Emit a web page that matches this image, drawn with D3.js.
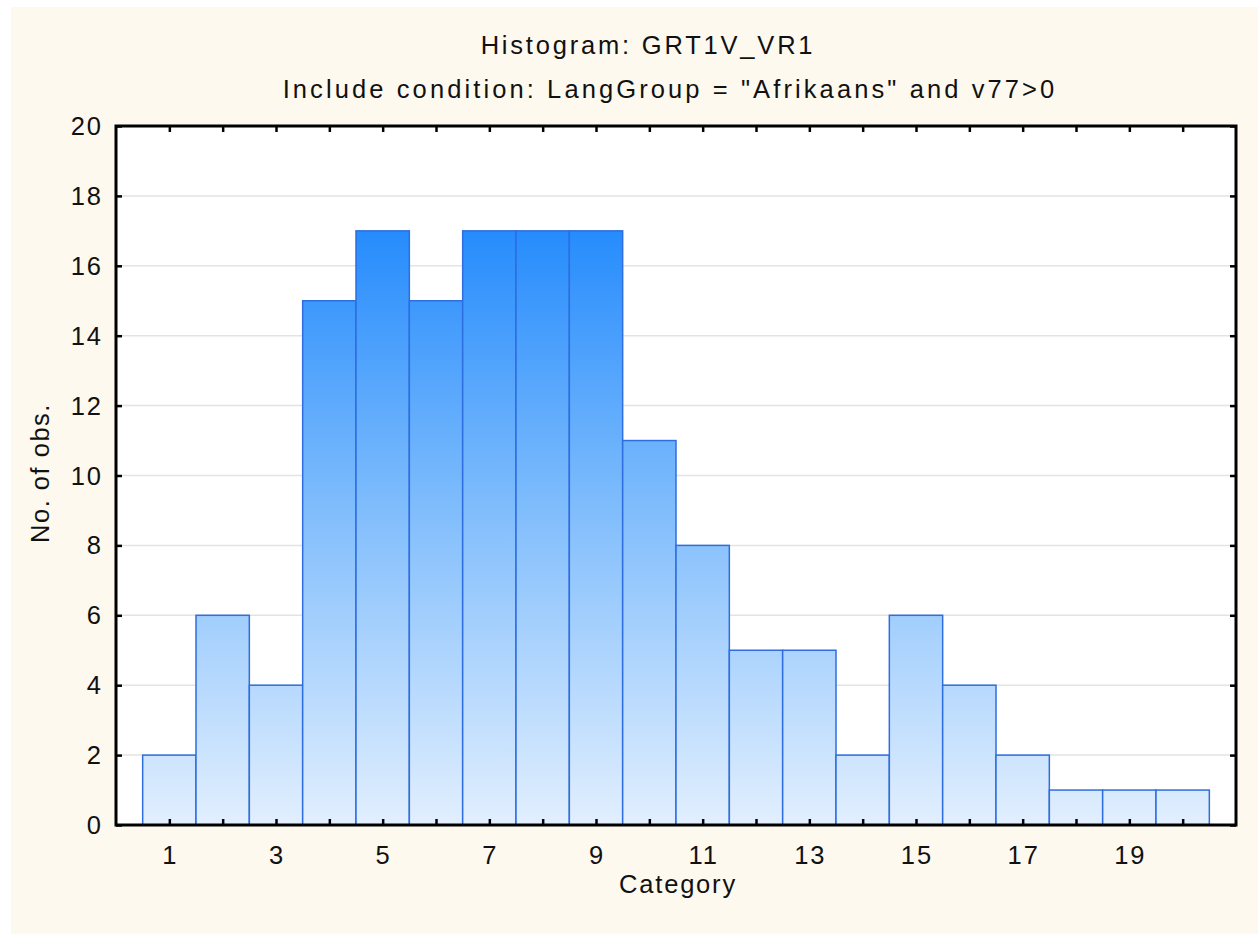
<!DOCTYPE html>
<html>
<head>
<meta charset="utf-8">
<script src="https://cdn.jsdelivr.net/npm/d3@7"></script>
<style>
  body { margin: 0; background: #ffffff; }
  svg { display: block; }
  text { font-family: "Liberation Sans", Arial, Helvetica, sans-serif; fill: #111; }
</style>
</head>
<body>
<svg id="chart" width="1258" height="934"></svg>
<script>
// histogram data: category -> no. of obs.
const categories = d3.range(1, 21);
const counts = [2, 6, 4, 15, 17, 15, 17, 17, 17, 11, 8, 5, 5, 2, 6, 4, 2, 1, 1, 1];
const xTickLabels = [1, 3, 5, 7, 9, 11, 13, 15, 17, 19];
const yTicks = [0, 2, 4, 6, 8, 10, 12, 14, 16, 18, 20];
const titleText = 'Histogram: GRT1V_VR1';
const subtitleText = 'Include condition: LangGroup = "Afrikaans" and v77>0';

const svg = d3.select('#chart');
const W = 1258, H = 934;
const margin = { top: 126, right: 22, bottom: 109, left: 116 };
const plotW = W - margin.left - margin.right;
const plotH = H - margin.top - margin.bottom;
const fontSize = '25.5px';

// cream background
svg.append('rect')
  .attr('x', 11).attr('y', 7)
  .attr('width', W - 11).attr('height', H - 7)
  .attr('fill', '#fdf9ef');

const x = d3.scaleLinear().domain([0, 21]).range([0, plotW]);
const y = d3.scaleLinear().domain([0, 20]).range([plotH, 0]);

const defs = svg.append('defs');
const grad = defs.append('linearGradient')
  .attr('id', 'barGrad')
  .attr('gradientUnits', 'userSpaceOnUse')
  .attr('x1', 0).attr('x2', 0)
  .attr('y1', y(17)).attr('y2', y(0));
grad.append('stop').attr('offset', '0%').attr('stop-color', '#268cfc');
grad.append('stop').attr('offset', '50%').attr('stop-color', '#86c0fc');
grad.append('stop').attr('offset', '100%').attr('stop-color', '#e2effe');

const g = svg.append('g').attr('transform', `translate(${margin.left},${margin.top})`);

g.append('rect')
  .attr('width', plotW).attr('height', plotH)
  .attr('fill', '#ffffff');

// gridlines
g.selectAll('.grid')
  .data(yTicks.filter(d => d > 0 && d < 20))
  .enter().append('line')
  .attr('class', 'grid')
  .attr('x1', 0).attr('x2', plotW)
  .attr('y1', d => y(d)).attr('y2', d => y(d))
  .attr('stroke', '#e3e3e3')
  .attr('stroke-width', 1.5);

// bars
g.selectAll('.bar')
  .data(categories)
  .enter().append('rect')
  .attr('class', 'bar')
  .attr('x', d => x(d - 0.5))
  .attr('width', d => x(d + 0.5) - x(d - 0.5))
  .attr('y', (d, i) => y(counts[i]))
  .attr('height', (d, i) => y(0) - y(counts[i]))
  .attr('fill', 'url(#barGrad)')
  .attr('stroke', '#2e6ee0')
  .attr('stroke-width', 1.5);

// axes with inward ticks
const tickLen = 6;
const xAxisBottom = d3.axisBottom(x).tickValues(categories).tickSize(-tickLen).tickFormat('');
const xAxisTop = d3.axisTop(x).tickValues(categories).tickSize(-tickLen).tickFormat('');
const yAxisLeft = d3.axisLeft(y).tickValues(yTicks).tickSize(-tickLen).tickFormat('');
const yAxisRight = d3.axisRight(y).tickValues(yTicks).tickSize(-tickLen).tickFormat('');

function styleAxis(sel) {
  sel.select('.domain').remove();
  sel.selectAll('.tick line').attr('stroke', '#000').attr('stroke-width', 2.5);
}

g.append('g').attr('transform', `translate(0,${plotH})`).call(xAxisBottom).call(styleAxis);
g.append('g').call(xAxisTop).call(styleAxis);
g.append('g').call(yAxisLeft).call(styleAxis);
g.append('g').attr('transform', `translate(${plotW},0)`).call(yAxisRight).call(styleAxis);

// frame
g.append('rect')
  .attr('width', plotW).attr('height', plotH)
  .attr('fill', 'none')
  .attr('stroke', '#000')
  .attr('stroke-width', 3);

// tick labels
g.selectAll('.xlab')
  .data(xTickLabels)
  .enter().append('text')
  .attr('x', d => x(d) + 1)
  .attr('y', plotH + 39)
  .attr('text-anchor', 'middle')
  .style('font-size', fontSize)
  .style('letter-spacing', '2px')
  .text(d => d);

g.selectAll('.ylab')
  .data(yTicks)
  .enter().append('text')
  .attr('x', -13)
  .attr('y', d => y(d) + 9)
  .attr('text-anchor', 'end')
  .style('font-size', fontSize)
  .style('letter-spacing', '2px')
  .text(d => d);

// titles
svg.append('text')
  .attr('x', 648).attr('y', 54)
  .attr('text-anchor', 'middle')
  .style('font-size', fontSize)
  .style('letter-spacing', '2.8px')
  .text(titleText);

svg.append('text')
  .attr('x', 670).attr('y', 98)
  .attr('text-anchor', 'middle')
  .style('font-size', fontSize)
  .style('letter-spacing', '3.1px')
  .text(subtitleText);

svg.append('text')
  .attr('x', 678).attr('y', 893)
  .attr('text-anchor', 'middle')
  .style('font-size', fontSize)
  .style('letter-spacing', '1.8px')
  .text('Category');

svg.append('text')
  .attr('transform', `translate(49,473) rotate(-90)`)
  .attr('text-anchor', 'middle')
  .style('font-size', fontSize)
  .style('letter-spacing', '1.5px')
  .text('No. of obs.');
</script>
</body>
</html>
